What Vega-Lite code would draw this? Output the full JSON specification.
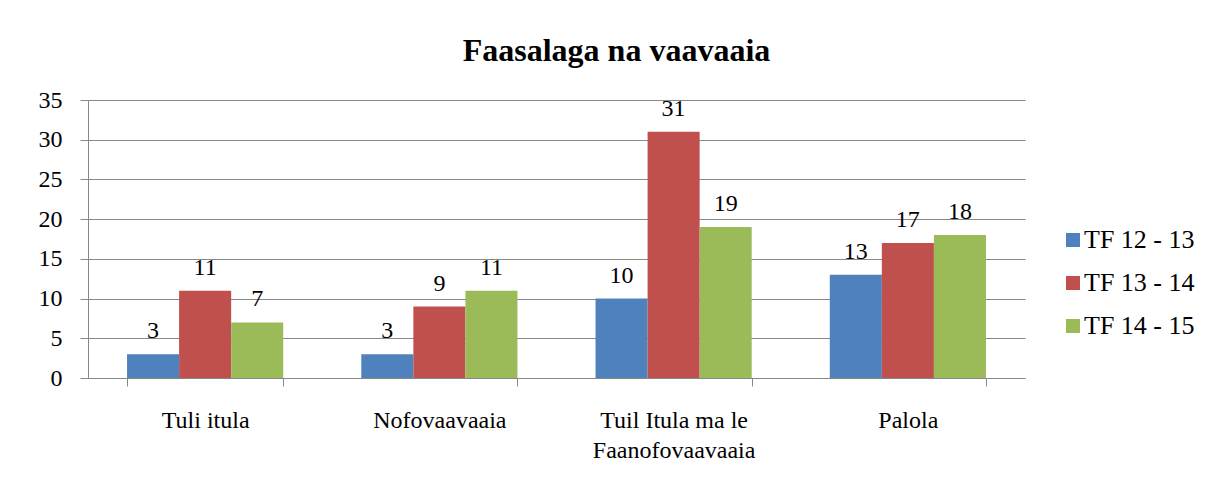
{
  "$schema": "https://vega.github.io/schema/vega-lite/v6.json",
  "width": 937,
  "height": 278,
  "autosize": {"type": "none"},
  "padding": {"left": 88, "top": 100, "right": 192, "bottom": 107},
  "background": "white",
  "title": {
    "text": "Faasalaga na vaavaaia",
    "fontSize": 32,
    "fontWeight": "bold",
    "color": "black",
    "anchor": "middle",
    "dx": 60,
    "offset": 20
  },
  "data": {
    "values": [
      {"category": "Tuli itula", "series": "TF 12 - 13", "value": 3},
      {"category": "Tuli itula", "series": "TF 13 - 14", "value": 11},
      {"category": "Tuli itula", "series": "TF 14 - 15", "value": 7},
      {"category": "Nofovaavaaia", "series": "TF 12 - 13", "value": 3},
      {"category": "Nofovaavaaia", "series": "TF 13 - 14", "value": 9},
      {"category": "Nofovaavaaia", "series": "TF 14 - 15", "value": 11},
      {"category": "Tuil Itula ma le Faanofovaavaaia", "series": "TF 12 - 13", "value": 10},
      {"category": "Tuil Itula ma le Faanofovaavaaia", "series": "TF 13 - 14", "value": 31},
      {"category": "Tuil Itula ma le Faanofovaavaaia", "series": "TF 14 - 15", "value": 19},
      {"category": "Palola", "series": "TF 12 - 13", "value": 13},
      {"category": "Palola", "series": "TF 13 - 14", "value": 17},
      {"category": "Palola", "series": "TF 14 - 15", "value": 18}
    ]
  },
  "encoding": {
    "x": {
      "field": "category",
      "type": "nominal",
      "sort": null,
      "title": null,
      "scale": {"paddingInner": 0.3333, "paddingOuter": 0.1667},
      "axis": {
        "labelAngle": 0,
        "labelFontSize": 24,
        "labelColor": "black",
        "labelLineHeight": 30,
        "labelBaseline": "top",
        "labelPadding": 22,
        "labelExpr": "datum.value == 'Tuil Itula ma le Faanofovaavaaia' ? ['Tuil Itula ma le', 'Faanofovaavaaia'] : datum.label",
        "tickBand": "extent",
        "tickSize": 8,
        "tickColor": "#888888",
        "domainColor": "#888888",
        "grid": false
      }
    },
    "xOffset": {"field": "series", "type": "nominal", "scale": {"paddingInner": 0, "paddingOuter": 0}},
    "y": {
      "field": "value",
      "type": "quantitative",
      "title": null,
      "scale": {"domain": [0, 35], "nice": false},
      "axis": {
        "values": [0, 5, 10, 15, 20, 25, 30, 35],
        "labelFontSize": 24,
        "labelColor": "black",
        "labelPadding": 18,
        "tickSize": 8,
        "tickColor": "#888888",
        "domainColor": "#888888",
        "gridColor": "#888888",
        "gridWidth": 1
      }
    }
  },
  "layer": [
    {
      "mark": {"type": "bar"},
      "encoding": {
        "color": {
          "field": "series",
          "type": "nominal",
          "scale": {"domain": ["TF 12 - 13", "TF 13 - 14", "TF 14 - 15"], "range": ["#4F81BD", "#C0504D", "#9BBB59"]},
          "legend": {
            "title": null,
            "orient": "none",
            "legendX": 972,
            "legendY": 127,
            "padding": 0,
            "symbolType": "square",
            "symbolSize": 196,
            "symbolStrokeWidth": 0,
            "labelFontSize": 26,
            "labelColor": "black",
            "labelOffset": -2,
            "rowPadding": 17
          }
        }
      }
    },
    {
      "mark": {"type": "text", "baseline": "alphabetic", "dy": -16, "fontSize": 24, "color": "black"},
      "encoding": {"text": {"field": "value", "type": "quantitative"}}
    }
  ],
  "config": {
    "font": "Liberation Serif",
    "view": {"stroke": null},
    "axis": {"labelFont": "Liberation Serif"},
    "legend": {"labelFont": "Liberation Serif"},
    "text": {"font": "Liberation Serif"}
  }
}
